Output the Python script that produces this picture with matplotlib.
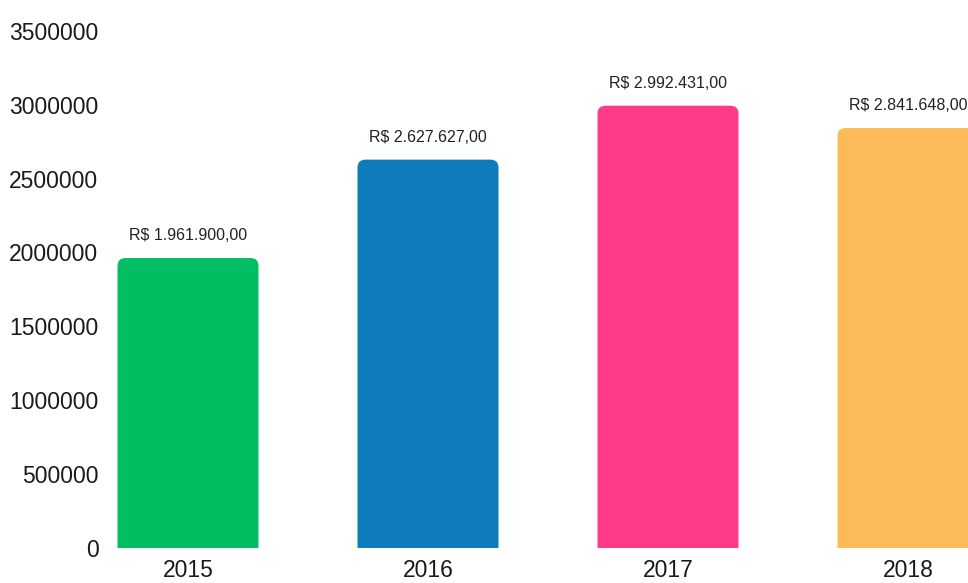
import matplotlib
matplotlib.use("Agg")
import matplotlib.pyplot as plt
from matplotlib.path import Path
from matplotlib.patches import PathPatch

plt.rcParams['font.family'] = ['Liberation Sans', 'DejaVu Sans']

# data
anos = ['2015', '2016', '2017', '2018']
valores = [1961900, 2627627, 2992431, 2841648]
rotulos = ['R$ 1.961.900,00', 'R$ 2.627.627,00', 'R$ 2.992.431,00', 'R$ 2.841.648,00']
cores = ['#00BF63', '#0E7BBD', '#FF3A8A', '#FDBA58']
yticks = [0, 500000, 1000000, 1500000, 2000000, 2500000, 3000000, 3500000]

fig = plt.figure(figsize=(9.68, 5.83), dpi=100)
ax = fig.add_axes([104 / 968, 35 / 583, 864 / 968, 517.3 / 583])

bars = ax.bar(range(len(anos)), valores, width=0.5875, color=cores)

ax.set_xlim(-0.35, 3.25)
ax.set_ylim(0, 3500000)

# swap the plain rectangles for ones with rounded top corners
rx = 8 / 240
ry = 8 / 147.8e-6
for b in bars:
    x0, w, h = b.get_x(), b.get_width(), b.get_height()
    x1 = x0 + w
    verts = [(x0, 0), (x1, 0), (x1, h - ry), (x1, h), (x1 - rx, h),
             (x0 + rx, h), (x0, h), (x0, h - ry), (x0, 0)]
    codes = [Path.MOVETO, Path.LINETO, Path.LINETO, Path.CURVE3, Path.CURVE3,
             Path.LINETO, Path.CURVE3, Path.CURVE3, Path.CLOSEPOLY]
    ax.add_patch(PathPatch(Path(verts, codes), facecolor=b.get_facecolor(),
                           edgecolor='none'))
    b.set_visible(False)

for i, v in enumerate(valores):
    ax.annotate(rotulos[i], (i, v), xytext=(0, 10.5), textcoords='offset points',
                ha='center', va='bottom', fontsize=11.5, color='#222222')

ax.set_xticks(range(len(anos)))
ax.set_xticklabels(anos)
ax.set_yticks(yticks)
ax.set_yticklabels([str(t) for t in yticks])
ax.tick_params(axis='both', length=0, labelsize=16.5, colors='#1a1a1a')
ax.tick_params(axis='y', pad=4)
ax.tick_params(axis='x', pad=8)

for s in ax.spines.values():
    s.set_visible(False)

fig.savefig('out.png', dpi=100)
